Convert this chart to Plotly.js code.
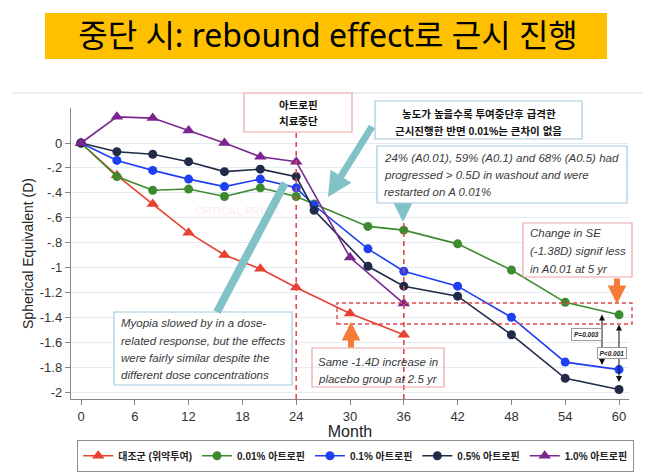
<!DOCTYPE html>
<html>
<head>
<meta charset="utf-8">
<script src="https://cdn.plot.ly/plotly-3.0.1.min.js"></script>
<style>
  html, body { margin: 0; padding: 0; background: #fff; }
  #chart { width: 652px; height: 475px; }
</style>
</head>
<body>
<div id="chart"></div>
<script>
// Spherical equivalent change (D) by month, per treatment group
const monthsPlacebo = [0, 4, 8, 12, 16, 20, 24, 30, 36];
const placebo = [0, -0.26, -0.49, -0.72, -0.90, -1.01, -1.16, -1.37, -1.54];

const monthsAtropine = [0, 4, 8, 12, 16, 20, 24, 26, 32, 36, 42, 48, 54, 60];
const atropine001 = [0, -0.27, -0.38, -0.37, -0.43, -0.36, -0.43, -0.49, -0.67, -0.70, -0.81, -1.02, -1.28, -1.38];
const atropine01 = [0, -0.14, -0.22, -0.29, -0.35, -0.29, -0.36, -0.50, -0.85, -1.03, -1.15, -1.40, -1.76, -1.82];
const atropine05 = [0, -0.07, -0.09, -0.15, -0.23, -0.21, -0.27, -0.54, -0.99, -1.15, -1.23, -1.54, -1.89, -1.98];

const monthsHigh = [0, 4, 8, 12, 16, 20, 24, 30, 36];
const atropine10 = [0, 0.21, 0.20, 0.10, 0.00, -0.11, -0.15, -0.92, -1.29];

const seriesNames = ['대조군 (위약투여)', '0.01% 아트로핀', '0.1% 아트로핀', '0.5% 아트로핀', '1.0% 아트로핀'];

const xTicks = [0, 6, 12, 18, 24, 30, 36, 42, 48, 54, 60];
const yTicks = [0, -0.2, -0.4, -0.6, -0.8, -1, -1.2, -1.4, -1.6, -1.8, -2];
const yTickText = ['0', '-.2', '-.4', '-.6', '-.8', '-1', '-1.2', '-1.4', '-1.6', '-1.8', '-2'];

// plot box in page pixels, used to place notes in paper coordinates
const W = 652, H = 475;
const L = 71, R = 629, T = 108, B = 399;
const P = px => (px - L) / (R - L);
const Q = py => (B - py) / (B - T);

const lineW = 1.6;
function trace(x, y, name, color, symbol, size) {
  return {
    x: x, y: y, name: name, type: 'scatter', mode: 'lines+markers',
    line: { color: color, width: lineW },
    marker: { color: color, symbol: symbol, size: size }
  };
}

const data = [
  trace(monthsPlacebo, placebo, seriesNames[0], '#e8412f', 'triangle-up', 11),
  trace(monthsAtropine, atropine001, seriesNames[1], '#3c8b2e', 'circle', 9),
  trace(monthsAtropine, atropine01, seriesNames[2], '#1f3ff2', 'circle', 9),
  trace(monthsAtropine, atropine05, seriesNames[3], '#212b48', 'circle', 9),
  trace(monthsHigh, atropine10, seriesNames[4], '#7a2590', 'triangle-up', 11)
];

const teal = '#80c2c6';
const orange = '#f47c37';
const pinkBorder = '#e9a5a5';
const blueBorder = '#a3cade';
const noteFont = { family: 'Liberation Sans, Arial, sans-serif', size: 11.5, color: '#3a3a3a', style: 'italic' };
const koFont = { family: 'Liberation Sans, Noto Sans CJK KR, sans-serif', size: 10.5, color: '#111', weight: 'bold' };
const pFont = { family: 'Liberation Sans, sans-serif', size: 6.5, color: '#222', style: 'italic', weight: 'bold' };

const shapes = [
  // heading band
  { type: 'rect', xref: 'paper', yref: 'paper', x0: P(45), x1: P(607), y0: Q(59), y1: Q(13), fillcolor: '#ffc000', line: { width: 0 } },
  // frame rule above the graph
  { type: 'line', xref: 'paper', yref: 'paper', x0: P(12), x1: P(642), y0: Q(93), y1: Q(93), line: { color: '#d9d9d9', width: 1.2 } },
  // treatment stop and restart markers
  { type: 'line', xref: 'x', yref: 'paper', x0: 24, x1: 24, y0: 0, y1: Q(132), line: { color: '#e2474b', width: 1.6, dash: '5px,4px' } },
  { type: 'line', xref: 'x', yref: 'paper', x0: 36, x1: 36, y0: 0, y1: Q(222), line: { color: '#e2474b', width: 1.6, dash: '5px,4px' } },
  // comparison band at 5 years
  { type: 'rect', xref: 'paper', yref: 'paper', x0: P(337), x1: P(632), y0: Q(324), y1: Q(303), line: { color: '#e2474b', width: 1.4, dash: '4px,3px' } }
];
const annotations = [];

// a bordered note: frame as a shape, each text line as its own annotation
function note(lines, x0, y0, x1, y1, lineYs, textX, font, border, align, fill) {
  shapes.push({
    type: 'rect', xref: 'paper', yref: 'paper',
    x0: P(x0), x1: P(x1), y0: Q(y1), y1: Q(y0),
    line: { color: border, width: 1.2 }, fillcolor: fill
  });
  lines.forEach((t, i) => {
    annotations.push({
      xref: 'paper', yref: 'paper', showarrow: false, text: t, font: font,
      x: P(align === 'center' ? (x0 + x1) / 2 : textX), y: Q(lineYs[i]),
      xanchor: align === 'center' ? 'center' : 'left', yanchor: 'middle'
    });
  });
}
function arrow(tipX, tipY, tailX, tailY, color, width, size, both) {
  const a = {
    xref: 'paper', yref: 'paper', x: P(tipX), y: Q(tipY),
    ax: tailX - tipX, ay: tailY - tipY, text: '', showarrow: true,
    arrowcolor: color, arrowwidth: width, arrowhead: 2, arrowsize: size
  };
  if (both) { a.arrowside = 'end+start'; a.startarrowhead = 2; a.startarrowsize = size; }
  return a;
}

note(['아트로핀', '치료중단'], 244, 93, 352, 132, [105, 121], 0, koFont, pinkBorder, 'center', '#fff');
note(['농도가 높을수록 투여중단후 급격한', '근시진행한 반면 0.01%는 큰차이 없음'], 375, 101, 582, 139, [114, 131], 0, koFont, blueBorder, 'center', '#fff');
note(['24% (A0.01), 59% (A0.1) and 68% (A0.5) had', 'progressed &gt; 0.5D in washout and were', 'restarted on A 0.01%'],
     377, 146, 627, 203, [158, 175, 192], 382, noteFont, blueBorder, 'left', '#fff');
note(['Myopia slowed by in a dose-', 'related response, but the effects', 'were fairly similar despite the', 'different dose concentrations'],
     114, 312, 292, 385, [323, 340.5, 358, 375], 119, noteFont, blueBorder, 'left', '#fff');
note(['Same -1.4D increase in', 'placebo group at 2.5 yr'], 312, 348, 444, 387, [361.5, 379], 316, noteFont, pinkBorder, 'left', 'rgba(0,0,0,0)');
note(['Change in SE', '(-1.38D) signif less', 'in A0.01 at 5 yr'], 523, 223, 632, 277, [233, 251, 268.5], 528, noteFont, pinkBorder, 'left', '#fff');

// pointer from the dose-response note
shapes.push({ type: 'line', xref: 'paper', yref: 'paper', x0: P(217), y0: Q(312), x1: P(285), y1: Q(183), line: { color: teal, width: 8 } });

annotations.push(
  arrow(328, 197, 373, 125, teal, 7, 0.7),
  arrow(403, 222, 403, 203, teal, 5, 0.75),
  arrow(351, 322, 351, 349, orange, 6, 0.62),
  arrow(617, 304, 617, 277, orange, 6, 0.62),
  arrow(602, 365, 602, 313, '#111', 1, 1.2, true),
  arrow(619, 382, 619, 323, '#111', 1, 1.2, true),
  {
    xref: 'paper', yref: 'paper', x: P(602), y: Q(341), showarrow: false, text: 'P=0.003', font: pFont,
    bgcolor: '#fff', bordercolor: '#9a9a9a', borderwidth: 1, borderpad: 2
  },
  {
    xref: 'paper', yref: 'paper', x: P(627), y: Q(358.5), showarrow: false, text: 'P&lt;0.001', font: pFont,
    bgcolor: '#fff', bordercolor: '#9a9a9a', borderwidth: 1, borderpad: 1.5
  },
  {
    xref: 'paper', yref: 'paper', x: P(193), y: Q(211), showarrow: false,
    text: 'OPTICAL PRISM', font: { family: 'Liberation Sans, sans-serif', size: 11, color: 'rgba(226,150,200,0.22)' }
  }
);

const tickFont = { family: 'Liberation Sans, Arial, sans-serif', size: 13, color: '#333' };

const layout = {
  width: W, height: H,
  margin: { l: L, r: W - R, t: T, b: H - B, pad: 0 },
  paper_bgcolor: '#fff', plot_bgcolor: '#fff',
  showlegend: true,
  title: {
    text: '중단 시: rebound effect로 근시 진행',
    x: 328 / W, xanchor: 'center', y: 1 - 36 / H, yanchor: 'middle',
    font: { family: 'Noto Sans, Noto Sans CJK KR, sans-serif', size: 32, color: '#000' }
  },
  xaxis: {
    range: [(L - 81) / 8.967, (R - 81) / 8.967],
    tickvals: xTicks, ticktext: xTicks.map(String),
    ticks: 'outside', ticklen: 5, tickcolor: '#888', tickwidth: 1,
    showline: true, linecolor: '#888', linewidth: 1.2,
    showgrid: false, zeroline: false, tickfont: tickFont,
    title: { text: 'Month', font: { family: 'Liberation Sans, Arial, sans-serif', size: 16, color: '#222' }, standoff: 0 }
  },
  yaxis: {
    range: [(143 - B) / 124.5, (143 - T) / 124.5],
    tickvals: yTicks, ticktext: yTickText,
    ticks: 'outside', ticklen: 5, tickcolor: '#888', tickwidth: 1,
    showline: true, linecolor: '#888', linewidth: 1.2,
    showgrid: true, gridcolor: '#e3edf1', gridwidth: 1, zeroline: false, tickfont: tickFont,
    title: { text: 'Spherical Equivalent (D)', font: { family: 'Liberation Sans, Arial, sans-serif', size: 14, color: '#222' }, standoff: 2 }
  },
  legend: {
    orientation: 'h', xref: 'container', yref: 'container',
    x: 77 / W, xanchor: 'left', y: 1 - 440 / H, yanchor: 'top',
    bordercolor: '#8c8c8c', borderwidth: 1.2, bgcolor: '#fff',
    font: { family: 'Liberation Sans, Noto Sans CJK KR, sans-serif', size: 10, color: '#222', weight: 'bold' },
    itemwidth: 30, tracegroupgap: 0
  },
  annotations: annotations,
  shapes: shapes
};

Plotly.newPlot('chart', data, layout, { displayModeBar: false, staticPlot: true });
</script>
</body>
</html>
